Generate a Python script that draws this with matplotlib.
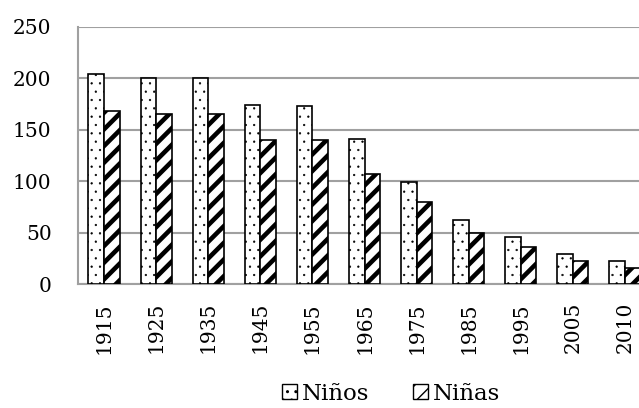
import matplotlib
matplotlib.use("Agg")
import matplotlib.pyplot as plt
import numpy as np
from matplotlib.patches import Patch

plt.rcParams['font.family'] = ['DejaVu Serif']
plt.rcParams['hatch.color'] = 'black'

years = ['1915', '1925', '1935', '1945', '1955', '1965', '1975', '1985', '1995', '2005', '2010']
ninos = [204, 200, 200, 174, 173, 141, 99, 62, 46, 29, 22]
ninas = [168, 165, 165, 140, 140, 107, 80, 50, 36, 22, 16]
series_labels = ['Niños', 'Niñas']

DOT_HATCH, DOT_LW = '..', 0.4
STRIPE_HATCH, STRIPE_LW = '//', 3.3


def style_hatch(patch, lw):
    if hasattr(patch, 'set_hatch_linewidth'):
        patch.set_hatch_linewidth(lw)


fig = plt.figure(figsize=(6.39, 4.08), dpi=100)
ax = fig.add_axes([78 / 639, 124 / 408, 573 / 639, 257 / 408])

x = np.arange(len(years))
w = 0.3
b1 = ax.bar(x - w / 2, ninos, w, facecolor='white', edgecolor='black', linewidth=1.2,
            hatch=DOT_HATCH, zorder=3)
b2 = ax.bar(x + w / 2, ninas, w, facecolor='white', edgecolor='black', linewidth=1.2,
            hatch=STRIPE_HATCH, zorder=3)
for p in b1:
    style_hatch(p, DOT_LW)
for p in b2:
    style_hatch(p, STRIPE_LW)

ax.set_xlim(-0.5, len(years) - 0.5)
ax.set_ylim(0, 250)
ax.set_yticks([0, 50, 100, 150, 200, 250])
ax.yaxis.grid(True, color='#a0a0a0', linewidth=1.5, zorder=0)
ax.set_axisbelow(True)

for side in ['top', 'right']:
    ax.spines[side].set_visible(False)
for side in ['left', 'bottom']:
    ax.spines[side].set_color('#a0a0a0')
    ax.spines[side].set_linewidth(1.5)

ax.set_xticks(x)
ax.set_xticklabels(years, rotation=90)
ax.tick_params(axis='y', length=0, pad=19, labelsize=14.5)
ax.tick_params(axis='x', length=0, pad=13, labelsize=14.5)

h1 = Patch(facecolor='white', edgecolor='black', hatch=DOT_HATCH, linewidth=1.0, label=series_labels[0])
h2 = Patch(facecolor='white', edgecolor='black', hatch=STRIPE_HATCH, linewidth=1.0, label=series_labels[1])
style_hatch(h1, DOT_LW)
style_hatch(h2, STRIPE_LW)
fig.legend(handles=[h1, h2], loc='center', bbox_to_anchor=(0.612, 0.035), ncol=2,
           frameon=False, fontsize=16.5, handlelength=0.65, handleheight=0.65,
           handletextpad=0.2, columnspacing=1.95)

fig.savefig('out.png', dpi=100)
